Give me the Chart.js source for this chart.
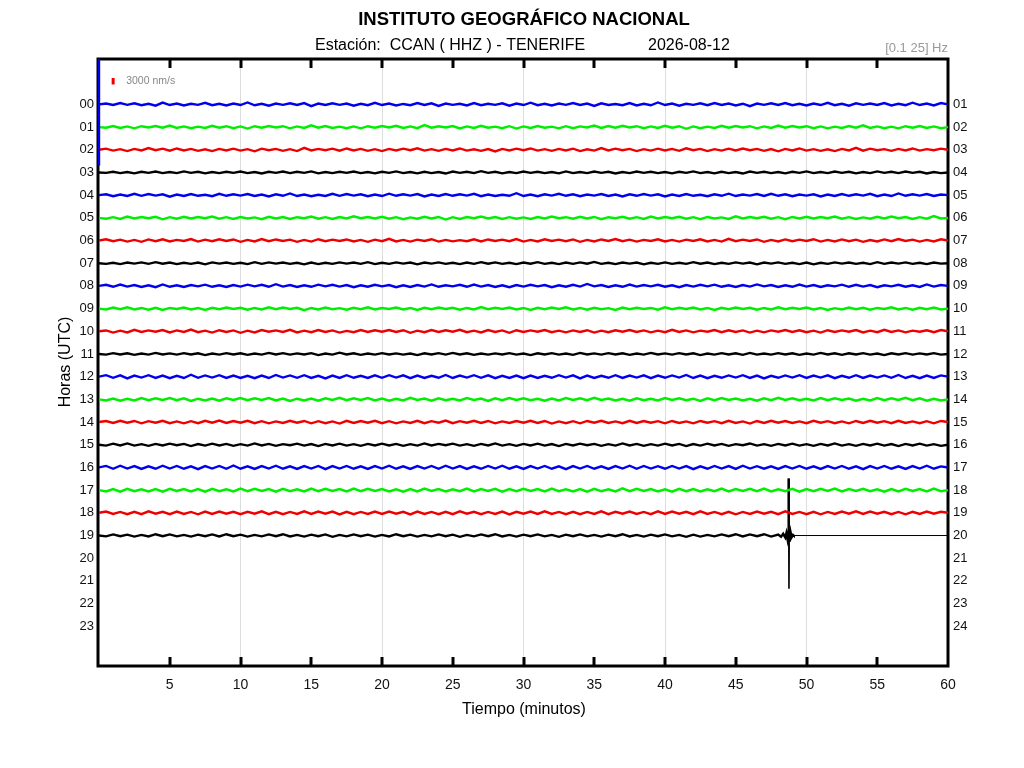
<!DOCTYPE html>
<html>
<head>
<meta charset="utf-8">
<script src="https://cdn.jsdelivr.net/npm/chart.js@4.4.1/dist/chart.umd.min.js"></script>
<style>
  html, body { margin: 0; padding: 0; background: #fff; }
  #wrap { width: 1024px; height: 768px; }
</style>
</head>
<body>
<div id="wrap"><canvas id="heli" width="1024" height="768"></canvas></div>
<script>
// sample times inside each hour line (minutes)
const minutes = [
  0, 0.5, 1, 1.5, 2, 2.5, 3, 3.5, 4, 4.5, 5, 5.5, 6, 6.5, 7, 7.5, 8, 8.5, 9, 9.5,
  10, 10.5, 11, 11.5, 12, 12.5, 13, 13.5, 14, 14.5, 15, 15.5, 16, 16.5, 17, 17.5, 18, 18.5, 19, 19.5,
  20, 20.5, 21, 21.5, 22, 22.5, 23, 23.5, 24, 24.5, 25, 25.5, 26, 26.5, 27, 27.5, 28, 28.5, 29, 29.5,
  30, 30.5, 31, 31.5, 32, 32.5, 33, 33.5, 34, 34.5, 35, 35.5, 36, 36.5, 37, 37.5, 38, 38.5, 39, 39.5,
  40, 40.5, 41, 41.5, 42, 42.5, 43, 43.5, 44, 44.5, 45, 45.5, 46, 46.5, 47, 47.5, 48, 48.5, 49, 49.5,
  50, 50.5, 51, 51.5, 52, 52.5, 53, 53.5, 54, 54.5, 55, 55.5, 56, 56.5, 57, 57.5, 58, 58.5, 59, 59.5,
  60
];

// ground velocity per hour line, in units of 100 nm/s
const h00 = [0,4,-3,6,-2,5,-4,3,-6,8,-3,4,-5,3,-2,7,-4,3,-5,4,
  -3,9,-4,3,-6,4,-2,5,-3,6,-8,4,-3,5,-2,4,-6,3,-4,7,
  -3,4,-5,2,-4,6,-3,5,-7,4,-2,3,-5,6,-4,3,-2,5,-6,4,
  -3,8,-4,3,-5,4,-2,6,-3,4,-7,5,-3,2,-4,6,-5,3,-4,9,
  -3,4,-6,3,-2,5,-4,6,-3,4,-5,3,-8,4,-2,5,-3,6,-4,3,
  -5,4,-3,7,-4,3,-6,5,-2,4,-3,6,-5,3,-4,8,-3,4,-5,6, 0];
const h01 = [0,-3,5,-4,3,-6,4,-2,5,-3,7,-4,3,-5,2,-4,6,-3,4,-5,
  3,-7,4,-3,5,-2,4,-6,3,-4,8,-3,5,-4,2,-5,3,-6,4,-3,
  5,-2,6,-4,3,-5,9,-3,4,-2,5,-6,3,-4,6,-3,2,-5,4,-7,
  3,-4,5,-3,2,-6,4,-5,3,-2,7,-4,5,-3,6,-2,4,-5,3,-4,
  6,-3,4,-8,3,-5,2,-4,6,-3,5,-2,4,-6,3,-4,7,-3,5,-2,
  4,-5,3,-6,2,-4,5,-3,8,-4,3,-5,2,-6,4,-3,5,-4,3,-5, 0];
const h02 = [0,5,-4,3,-6,4,-3,8,-2,5,-4,6,-3,4,-5,2,-6,4,-3,5,
  -4,3,-7,5,-2,4,-5,3,-6,9,-3,4,-2,5,-4,6,-3,4,-5,3,
  -6,4,-3,5,-2,7,-4,3,-5,4,-3,6,-4,2,-5,3,-8,4,-3,5,
  -2,6,-4,3,-5,4,-3,5,-6,2,-4,8,-3,5,-2,4,-6,3,-4,5,
  -3,4,-5,7,-2,4,-6,3,-4,5,-3,6,-2,4,-5,3,-7,4,-3,6,
  -4,3,-5,2,-6,4,-3,9,-4,5,-2,3,-5,4,-3,6,-4,3,-2,5, 0];
const h03 = [0,-2,3,-3,2,-4,3,-2,4,-3,2,-3,5,-2,3,-4,2,-3,3,-2,
  4,-3,2,-5,3,-2,4,-3,3,-2,5,-4,2,-3,3,-2,4,-3,2,-4,
  3,-2,5,-3,2,-4,3,-3,2,-5,4,-2,3,-3,6,-2,3,-4,2,-3,
  4,-2,3,-3,2,-4,5,-3,2,-3,4,-2,3,-5,2,-3,4,-2,3,-3,
  2,-4,3,-2,5,-3,2,-4,3,-3,2,-5,4,-2,3,-3,2,-4,3,-2,
  5,-3,2,-3,4,-2,3,-4,2,-3,5,-2,3,-3,4,-2,3,-5,2,-3, 0];
const h04 = [0,4,-5,3,-4,6,-3,5,-2,4,-7,3,-4,5,-3,2,-5,6,-3,4,
  -2,5,-4,3,-6,4,-3,8,-4,3,-5,2,-4,6,-3,5,-2,4,-5,3,
  -4,7,-3,4,-2,5,-6,3,-4,5,-3,4,-2,6,-5,3,-4,2,-3,9,
  -4,3,-5,4,-2,6,-3,4,-5,3,-2,5,-4,3,-6,4,-3,5,-2,4,
  -6,3,-4,5,-3,2,-5,4,-3,7,-4,3,-2,5,-4,6,-3,4,-5,3,
  -2,4,-6,3,-4,5,-3,4,-2,6,-5,3,-4,8,-3,4,-2,5,-4,3, 0];
const h05 = [0,-4,3,-5,6,-3,4,-2,5,-7,3,-4,5,-3,4,-2,6,-4,3,-5,
  4,-3,2,-6,5,-3,4,-5,3,-2,6,-4,3,-5,4,-3,7,-2,4,-3,
  5,-4,3,-6,2,-4,5,-3,4,-8,3,-5,4,-2,6,-3,4,-5,3,-4,
  2,-5,4,-3,6,-2,3,-4,5,-3,4,-6,3,-2,5,-4,3,-5,6,-3,
  4,-2,5,-4,3,-6,4,-3,2,-5,7,-3,4,-2,5,-4,3,-6,4,-3,
  5,-3,4,-2,6,-4,3,-5,2,-4,5,-3,6,-2,4,-5,3,-4,8,-3, 0];
const h06 = [0,6,-3,4,-5,3,-6,5,-3,6,-4,3,-2,7,-5,4,-3,6,-2,5,
  -6,3,-4,7,-3,5,-2,4,-6,3,-5,6,-3,4,-2,5,-4,3,-6,4,
  -3,8,-4,3,-5,4,-2,6,-5,3,-4,2,-3,6,-4,5,-2,4,-3,7,
  -5,3,-4,6,-2,4,-3,5,-6,3,-4,5,-2,7,-3,4,-5,3,-2,6,
  -4,3,-5,4,-2,6,-4,3,-5,8,-3,4,-2,5,-6,3,-4,5,-3,4,
  -2,6,-5,3,-4,5,-3,4,-6,2,-4,5,-3,7,-2,4,-5,3,-4,6, 0];
const h07 = [0,-3,2,-4,3,-2,4,-3,5,-2,3,-4,2,-3,3,-5,4,-2,3,-3,
  2,-4,5,-3,4,-2,3,-3,2,-5,3,-4,2,-3,4,-2,3,-3,5,-4,
  2,-3,4,-2,3,-5,3,-2,4,-3,2,-4,3,-3,5,-2,4,-3,2,-4,
  3,-2,5,-3,2,-4,3,-3,4,-2,6,-3,2,-4,3,-2,3,-5,2,-3,
  4,-3,2,-3,5,-2,3,-4,2,-3,4,-2,3,-5,3,-2,4,-3,2,-4,
  3,-5,2,-3,4,-2,3,-3,2,-4,5,-3,3,-2,4,-3,2,-4,3,-2, 0];
const h08 = [0,5,-4,6,-3,4,-5,3,-6,7,-4,3,-5,4,-2,6,-4,3,-5,4,
  -3,6,-2,5,-4,8,-3,4,-5,3,-4,6,-2,5,-3,4,-6,3,-4,5,
  -2,4,-6,3,-5,4,-3,7,-4,3,-2,5,-4,6,-3,4,-5,3,-6,4,
  -3,5,-2,4,-6,3,-4,5,-3,9,-2,4,-5,3,-4,6,-3,4,-2,5,
  -4,3,-6,4,-3,5,-2,6,-4,3,-5,4,-3,7,-2,4,-5,3,-4,6,
  -3,4,-5,3,-2,6,-4,5,-3,4,-6,3,-2,5,-4,3,-5,7,-3,4, 0];
const h09 = [0,-4,5,-3,6,-4,3,-5,4,-6,3,-2,5,-4,3,-6,4,-3,5,-2,
  4,-5,3,-4,6,-3,5,-2,4,-7,3,-4,5,-3,2,-5,4,-3,6,-4,
  3,-2,5,-4,3,-6,4,-3,5,-2,4,-5,3,-4,7,-3,4,-2,5,-4,
  3,-6,4,-3,5,-2,6,-4,3,-5,4,-3,2,-6,5,-3,4,-2,3,-5,
  6,-3,4,-2,5,-4,3,-6,4,-3,5,-2,4,-5,3,-4,6,-3,4,-2,
  5,-4,3,-6,2,-4,5,-3,4,-5,3,-2,6,-4,3,-5,4,-3,5,-4, 0];
const h10 = [0,4,-6,3,-5,7,-3,4,-2,6,-5,4,-3,8,-4,3,-6,5,-3,4,
  -7,3,-5,6,-2,4,-3,7,-5,3,-4,6,-3,4,-6,2,-4,6,-3,5,
  -2,6,-3,5,-7,3,-4,6,-3,5,-2,7,-4,3,-5,6,-3,4,-7,5,
  -3,4,-2,6,-4,3,-5,4,-3,5,-6,3,-4,5,-2,6,-3,4,-5,3,
  -4,7,-3,4,-5,3,-2,6,-4,5,-3,4,-6,3,-5,4,-2,6,-3,5,
  -4,3,-6,5,-3,4,-2,6,-5,3,-4,7,-3,4,-5,3,-2,5,-4,6, 0];
const h11 = [0,-3,4,-2,3,-4,2,-3,5,-2,3,-3,4,-2,3,-5,2,-3,4,-2,
  3,-4,2,-3,5,-2,4,-3,3,-2,4,-5,2,-3,6,-2,3,-4,2,-3,
  4,-2,3,-3,2,-5,3,-2,4,-3,5,-2,3,-4,2,-3,3,-2,4,-3,
  2,-5,3,-2,4,-3,2,-4,5,-2,3,-3,4,-2,3,-4,2,-3,5,-2,
  3,-3,4,-2,3,-5,2,-3,4,-2,3,-4,5,-3,2,-3,4,-2,3,-4,
  2,-3,5,-2,3,-4,3,-2,4,-3,2,-5,3,-2,4,-3,3,-2,4,-3, 0];
const h12 = [0,7,-5,6,-8,5,-4,7,-6,5,-7,4,-6,9,-5,6,-4,7,-6,5,
  -6,4,-7,5,-6,8,-4,6,-5,7,-6,4,-8,5,-6,7,-5,4,-6,6,
  -5,7,-4,6,-7,5,-6,4,-5,8,-6,5,-4,7,-5,6,-7,4,-6,5,
  -7,5,-6,4,-5,7,-4,6,-8,5,-6,4,-5,7,-6,5,-4,6,-7,5,
  -5,6,-4,8,-6,5,-7,4,-5,6,-4,7,-6,5,-8,4,-5,6,-4,7,
  -6,5,-4,6,-7,4,-5,7,-6,5,-4,6,-5,8,-6,4,-7,5,-6,6, 0];
const h13 = [0,-5,4,-6,3,-5,6,-4,5,-3,6,-4,5,-7,3,-5,4,-6,5,-3,
  6,-4,5,-3,6,-5,4,-7,3,-5,4,-6,5,-3,7,-4,5,-3,6,-5,
  4,-6,3,-5,7,-3,4,-6,5,-4,3,-5,6,-3,4,-7,5,-4,6,-3,
  5,-4,3,-6,4,-5,6,-3,5,-4,7,-3,4,-5,3,-6,5,-4,3,-5,
  6,-3,5,-4,3,-7,5,-4,6,-3,4,-5,3,-6,5,-4,7,-3,5,-4,
  3,-5,6,-4,5,-3,4,-6,3,-5,6,-4,5,-3,7,-4,5,-6,3,-5, 0];
const h14 = [0,5,-4,6,-3,5,-6,4,-3,6,-5,3,-6,4,-5,6,-3,7,-4,5,
  -3,6,-5,4,-6,3,-4,6,-3,5,-6,4,-5,3,-7,6,-4,5,-3,6,
  -5,4,-6,3,-4,6,-5,4,-3,7,-5,4,-3,6,-4,5,-6,3,-4,5,
  -3,6,-4,5,-7,3,-5,4,-6,5,-3,6,-4,3,-5,6,-4,5,-3,4,
  -6,5,-4,3,-6,5,-3,4,-5,6,-4,3,-7,5,-4,6,-3,5,-4,3,
  -5,6,-3,4,-5,3,-6,5,-4,6,-3,4,-5,6,-4,3,-5,4,-6,5, 0];
const h15 = [0,-4,5,-3,6,-4,3,-5,4,-3,5,-2,4,-6,3,-4,5,-3,4,-5,
  3,-4,6,-3,4,-5,3,-2,5,-4,3,-6,4,-3,5,-4,3,-5,4,-3,
  5,-3,4,-5,3,-4,6,-3,4,-2,5,-4,3,-5,4,-3,6,-4,3,-5,
  4,-3,5,-4,3,-6,4,-3,5,-2,4,-5,3,-4,6,-3,4,-5,3,-4,
  5,-3,4,-6,3,-4,5,-3,4,-5,3,-2,6,-4,3,-5,4,-3,5,-4,
  3,-5,4,-3,6,-4,3,-5,4,-3,5,-4,3,-6,4,-3,5,-4,3,-5, 0];
const h16 = [0,7,-6,8,-5,6,-7,5,-6,8,-5,7,-6,5,-8,6,-5,7,-6,9,
  -6,5,-7,6,-5,8,-6,5,-7,6,-5,7,-8,6,-5,7,-6,5,-7,6,
  -5,8,-6,5,-7,6,-5,7,-6,8,-5,6,-7,5,-6,7,-5,8,-6,5,
  -7,6,-5,7,-6,5,-8,6,-5,7,-6,5,-7,6,-5,8,-6,7,-5,6,
  -6,7,-5,6,-8,5,-6,7,-5,6,-7,8,-5,6,-6,5,-7,6,-5,7,
  -6,5,-7,6,-5,7,-6,5,-8,6,-5,7,-6,5,-7,6,-5,8,-6,5, 0];
const h17 = [0,-6,5,-7,6,-5,4,-6,5,-7,6,-4,5,-6,5,-7,6,-5,4,-6,
  7,-5,6,-4,5,-7,6,-5,4,-6,7,-5,6,-4,5,-6,7,-5,6,-4,
  5,-6,4,-7,5,-6,7,-4,5,-6,4,-5,7,-6,5,-4,6,-7,5,-5,
  6,-4,5,-6,7,-5,4,-6,5,-7,6,-5,4,-6,8,-5,6,-4,5,-6,
  4,-7,6,-5,5,-6,4,-5,7,-6,5,-4,6,-5,7,-6,4,-5,6,-7,
  5,-5,6,-4,7,-6,5,-4,6,-5,4,-7,5,-6,6,-4,5,-6,7,-5, 0];
const h18 = [0,6,-5,4,-6,5,-6,7,-4,5,-6,6,-5,4,-7,6,-5,6,-4,5,
  -6,5,-4,7,-6,5,-6,4,-5,7,-5,6,-4,6,-7,5,-6,4,-5,6,
  -5,6,-4,5,-7,6,-5,4,-6,5,-6,7,-4,5,-6,4,-5,6,-7,5,
  -4,6,-5,7,-5,4,-6,5,-6,4,-5,7,-6,5,-4,6,-5,4,-6,7,
  -5,6,-4,5,-6,7,-5,4,-6,5,-7,4,-5,6,-4,5,-6,7,-5,4,
  -6,5,-7,4,-5,6,-4,7,-5,6,-4,5,-6,4,-7,5,-5,6,-4,5, 0];
// hour 19 stops after the event: samples 0 .. 48 min
const h19 = [0,-4,5,-3,4,-5,3,-4,6,-3,5,-4,3,-5,4,-3,5,-4,6,-3,
  4,-5,3,-4,5,-3,6,-4,3,-5,4,-3,5,-6,3,-4,5,-3,4,-5,
  3,-4,6,-3,4,-5,3,-4,5,-3,4,-6,3,-4,5,-3,6,-4,3,-5,
  4,-3,5,-4,3,-6,4,-3,5,-4,3,-5,4,-3,6,-4,3,-5,4,-3,
  5,-4,3,-6,4,-5,3,-4,5,-3,6,-4,5,-3,6,-5,4];

// local event near 48.75 min of hour 19, then the flat tail
const eventMinutes19 = [48.2, 48.35, 48.5, 48.58, 48.65, 48.7, 48.74, 48.76, 48.78, 48.82, 48.88, 48.95, 49.05, 49.1, 60];
const eventValues19 = [-6, 8, -9, 12, -14, 16, 264, -246, 30, -28, 14, -8, 3, 0, 0];

// transient at the very start of hour 00
const startMinutes00 = [0, 0, 0];
const startValues00 = [300, -283, 0];

const hourTraces = [h00, h01, h02, h03, h04, h05, h06, h07, h08, h09,
  h10, h11, h12, h13, h14, h15, h16, h17, h18, h19];
const traceColors = ['#0000ee', '#00ee00', '#ee0000', '#000000'];

const hourTicks = [0, 1, 2, 3, 4, 5, 6, 7, 8, 9, 10, 11, 12, 13, 14, 15, 16, 17, 18, 19, 20, 21, 22, 23];
const leftHourLabels = ['00', '01', '02', '03', '04', '05', '06', '07', '08', '09', '10', '11',
  '12', '13', '14', '15', '16', '17', '18', '19', '20', '21', '22', '23'];
const rightHourLabels = ['01', '02', '03', '04', '05', '06', '07', '08', '09', '10', '11', '12',
  '13', '14', '15', '16', '17', '18', '19', '20', '21', '22', '23', '24'];
const minuteTicks = [5, 10, 15, 20, 25, 30, 35, 40, 45, 50, 55, 60];
const minuteLabels = ['5', '10', '15', '20', '25', '30', '35', '40', '45', '50', '55', '60'];

const unit = 100;                // nm/s per data unit
const scaleBar = 3000;           // nm/s
const nmPerLine = 10500;         // nm/s for one hour spacing

const FONT = '"Liberation Sans", Arial, Helvetica, sans-serif';

function toPoints(hour, xs, vs) {
  return vs.map((v, i) => ({ x: xs[i], y: hour - v * unit / nmPerLine }));
}

const datasets = hourTraces.map((vals, hour) => {
  let pts = toPoints(hour, minutes, vals);
  if (hour === 0) pts = toPoints(0, startMinutes00, startValues00).concat(pts);
  if (hour === 19) pts = pts.concat(toPoints(19, eventMinutes19, eventValues19));
  return {
    label: leftHourLabels[hour],
    data: pts,
    borderColor: traceColors[hour % 4],
    borderWidth: 2.4,
    pointRadius: 0,
    tension: 0,
    yAxisID: 'y'
  };
});

// let the start transient of hour 00 run over the left frame
datasets[0].clip = { left: 3, top: 0, right: 2, bottom: 0 };
// hour 19: thin spike and thin flat tail after the event
datasets[19].segment = {
  borderWidth: c => {
    const x0 = c.p0.parsed.x;
    if (x0 >= 49.1) return 1;
    if (x0 >= 48.74 && x0 < 48.78) return 1.6;
    return 2.4;
  }
};

const frame = {
  id: 'frame',
  beforeDatasetsDraw(chart) {
    const { ctx, chartArea: a, scales } = chart;
    const xs = scales.x;
    ctx.save();
    ctx.strokeStyle = '#000';
    ctx.lineWidth = 3;
    minuteTicks.forEach(m => {
      if (m >= 60) return;
      const px = Math.round(xs.getPixelForValue(m));
      ctx.beginPath();
      ctx.moveTo(px, a.top); ctx.lineTo(px, a.top + 9);
      ctx.moveTo(px, a.bottom); ctx.lineTo(px, a.bottom - 9);
      ctx.stroke();
    });
    ctx.strokeRect(a.left - 1, a.top, a.right - a.left + 1, a.bottom - a.top);
    ctx.restore();
  },
  afterDraw(chart) {
    const { ctx, scales } = chart;
    const xs = scales.x, ys = scales.y;
    ctx.save();
    // amplitude scale bar
    const bx = xs.getPixelForValue(1.0);
    ctx.strokeStyle = '#ee0000';
    ctx.lineWidth = 3;
    ctx.beginPath();
    ctx.moveTo(bx, ys.getPixelForValue(-1.02 + scaleBar / nmPerLine / 2));
    ctx.lineTo(bx, ys.getPixelForValue(-1.02 - scaleBar / nmPerLine / 2));
    ctx.stroke();
    ctx.fillStyle = '#888';
    ctx.font = '10.5px ' + FONT;
    ctx.textBaseline = 'middle';
    ctx.textAlign = 'left';
    ctx.fillText(scaleBar + ' nm/s', bx + 13, ys.getPixelForValue(-1.02));

    // titles
    ctx.fillStyle = '#000';
    ctx.textAlign = 'center';
    ctx.font = 'bold 18.5px ' + FONT;
    ctx.fillText('INSTITUTO GEOGRÁFICO NACIONAL', 524, 20);
    ctx.font = '16px ' + FONT;
    ctx.textAlign = 'left';
    ctx.fillText('Estación:  CCAN ( HHZ ) - TENERIFE', 315, 46);
    ctx.fillText('2026-08-12', 648, 46);
    ctx.fillStyle = '#999';
    ctx.font = '13px ' + FONT;
    ctx.textAlign = 'right';
    ctx.fillText('[0.1 25] Hz', 948, 48);

    ctx.fillStyle = '#000';
    ctx.font = '16px ' + FONT;
    ctx.textAlign = 'center';
    ctx.fillText('Tiempo (minutos)', 524, 710);
    ctx.translate(66, 362);
    ctx.rotate(-Math.PI / 2);
    ctx.fillText('Horas (UTC)', 0, 0);
    ctx.restore();
  }
};

const hourAxis = (pos, labels, width) => ({
  type: 'linear',
  position: pos,
  min: -2,
  max: 24.75,
  reverse: true,
  grid: { display: false, drawTicks: false },
  border: { display: false },
  afterBuildTicks: s => { s.ticks = hourTicks.map(v => ({ value: v })); },
  afterFit: s => { s.width = width; },
  ticks: {
    autoSkip: false,
    padding: 5,
    color: '#111',
    font: { size: 13, family: FONT },
    callback: (v, i) => labels[i]
  }
});

new Chart(document.getElementById('heli'), {
  type: 'line',
  data: { datasets },
  plugins: [frame],
  options: {
    responsive: false,
    animation: false,
    devicePixelRatio: 1,
    layout: { padding: { top: 59, left: 0, right: 0, bottom: 0 } },
    plugins: { legend: { display: false }, tooltip: { enabled: false } },
    scales: {
      x: {
        type: 'linear',
        min: 0,
        max: 60,
        grid: {
          drawTicks: false,
          lineWidth: 1,
          color: c => (c.tick && c.tick.value % 10 === 0 && c.tick.value < 60 ? '#dddddd' : 'rgba(0,0,0,0)')
        },
        border: { display: false },
        afterBuildTicks: s => { s.ticks = minuteTicks.map(v => ({ value: v })); },
        afterFit: s => { s.height = 102; },
        ticks: {
          autoSkip: false,
          maxRotation: 0,
          padding: 11,
          color: '#111',
          font: { size: 14, family: FONT },
          callback: (v, i) => minuteLabels[i]
        }
      },
      y: hourAxis('left', leftHourLabels, 99),
      y2: hourAxis('right', rightHourLabels, 76)
    }
  }
});
</script>
</body>
</html>
